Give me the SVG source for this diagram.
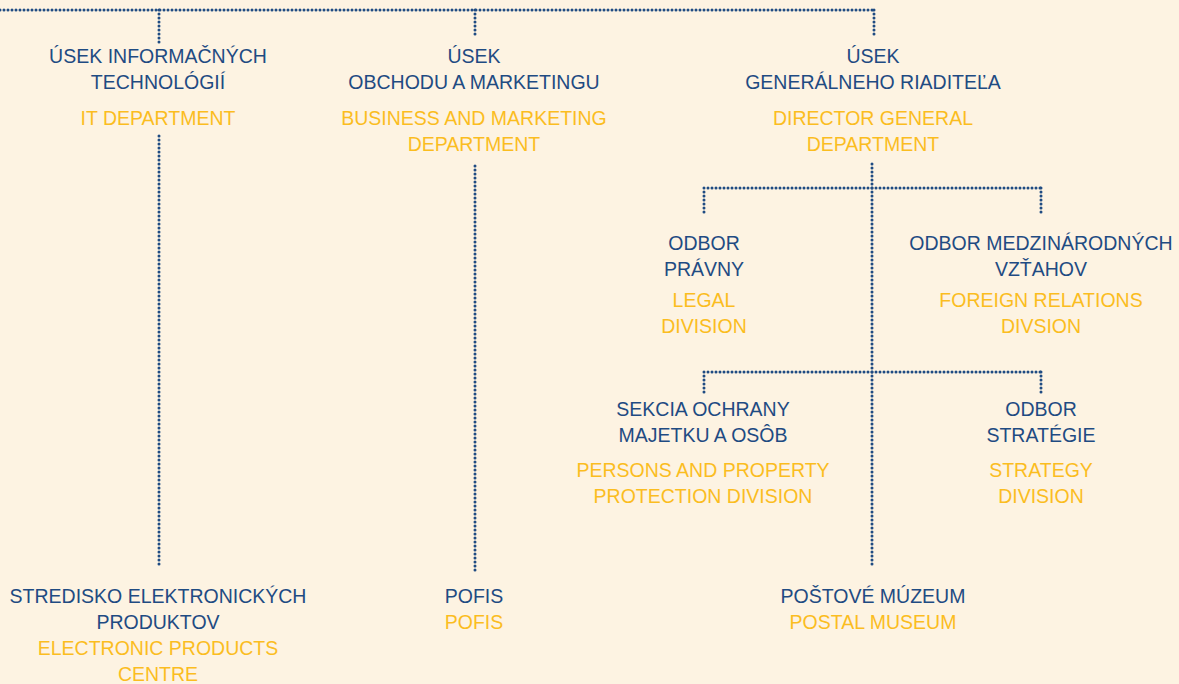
<svg xmlns="http://www.w3.org/2000/svg" width="1179" height="684" viewBox="0 0 1179 684">
<style>
text{font-family:"Liberation Sans",Arial,sans-serif;font-size:19.5px;text-anchor:middle}
.b{fill:#1f4b82}
.y{fill:#fbbd1f}
.c{fill:none;stroke:#1f4b82;stroke-width:3;stroke-linecap:round;stroke-dasharray:0 4}
</style>
<rect width="1179" height="684" fill="#fdf3e2"/>
<g id="connectors">
<path class="c" d="M0 10H874M159 10V43M475 10V37M874 10V37"/>
<path class="c" d="M159 136V568"/>
<path class="c" d="M475 166V572"/>
<path class="c" d="M872 164V568"/>
<path class="c" d="M704 188H1041M704 188V214M1041 188V214"/>
<path class="c" d="M704 372H1041M704 372V394M1041 372V394"/>
</g>
<g id="n-it"><text class="b" x="158" y="63">ÚSEK INFORMAČNÝCH</text><text class="b" x="158" y="89">TECHNOLÓGIÍ</text><text class="y" x="158" y="125">IT DEPARTMENT</text></g>
<g id="n-bm"><text class="b" x="474" y="63">ÚSEK</text><text class="b" x="474" y="89">OBCHODU A MARKETINGU</text><text class="y" x="474" y="125">BUSINESS AND MARKETING</text><text class="y" x="474" y="151">DEPARTMENT</text></g>
<g id="n-dg"><text class="b" x="873" y="63">ÚSEK</text><text class="b" x="873" y="89">GENERÁLNEHO RIADITEĽA</text><text class="y" x="873" y="125">DIRECTOR GENERAL</text><text class="y" x="873" y="151">DEPARTMENT</text></g>
<g id="n-legal"><text class="b" x="704" y="250">ODBOR</text><text class="b" x="704" y="276">PRÁVNY</text><text class="y" x="704" y="307">LEGAL</text><text class="y" x="704" y="333">DIVISION</text></g>
<g id="n-foreign"><text class="b" x="1041" y="250">ODBOR MEDZINÁRODNÝCH</text><text class="b" x="1041" y="276">VZŤAHOV</text><text class="y" x="1041" y="307">FOREIGN RELATIONS</text><text class="y" x="1041" y="333">DIVSION</text></g>
<g id="n-protect"><text class="b" x="703" y="416">SEKCIA OCHRANY</text><text class="b" x="703" y="442">MAJETKU A OSÔB</text><text class="y" x="703" y="477">PERSONS AND PROPERTY</text><text class="y" x="703" y="503">PROTECTION DIVISION</text></g>
<g id="n-strategy"><text class="b" x="1041" y="416">ODBOR</text><text class="b" x="1041" y="442">STRATÉGIE</text><text class="y" x="1041" y="477">STRATEGY</text><text class="y" x="1041" y="503">DIVISION</text></g>
<g id="n-epc"><text class="b" x="158" y="603">STREDISKO ELEKTRONICKÝCH</text><text class="b" x="158" y="629">PRODUKTOV</text><text class="y" x="158" y="655">ELECTRONIC PRODUCTS</text><text class="y" x="158" y="681">CENTRE</text></g>
<g id="n-pofis"><text class="b" x="474" y="603">POFIS</text><text class="y" x="474" y="629">POFIS</text></g>
<g id="n-museum"><text class="b" x="873" y="603">POŠTOVÉ MÚZEUM</text><text class="y" x="873" y="629">POSTAL MUSEUM</text></g>
</svg>
